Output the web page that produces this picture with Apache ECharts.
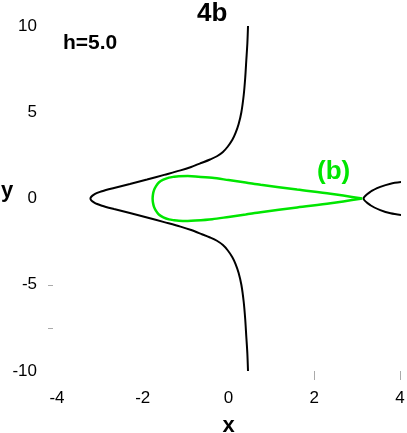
<!DOCTYPE html>
<html>
<head>
<meta charset="utf-8">
<script src="https://cdn.jsdelivr.net/npm/echarts@6/dist/echarts.min.js"></script>
<style>
html,body{margin:0;padding:0;background:#fff;}
#chart{width:407px;height:433px;}
</style>
</head>
<body>
<div id="chart"></div>
<script>
// Tick values
var xTicks = [-4, -2, 0, 2, 4];
var yTicks = [-10, -5, 0, 5, 10];
// Faint stray tick marks seen in the original
var xStrayTicks = [2, 4];
var yStrayTicks = [-5, -7.5];

// Left black separatrix branch (top to bottom)
var blackLeft = [
  [0.455, 10.0], [0.44, 9.0], [0.415, 8.0], [0.39, 7.0], [0.355, 6.0], [0.30, 5.0],
  [0.235, 4.3], [0.165, 3.8], [0.09, 3.4], [-0.02, 3.0], [-0.13, 2.7], [-0.27, 2.45],
  [-0.43, 2.26], [-0.62, 2.07], [-0.87, 1.83], [-1.12, 1.63], [-1.50, 1.37],
  [-1.90, 1.10], [-2.30, 0.84], [-2.67, 0.61], [-2.95, 0.42], [-3.13, 0.24], [-3.22, 0.0],
  [-3.13, -0.24], [-2.95, -0.42], [-2.67, -0.61], [-2.30, -0.84], [-1.90, -1.10],
  [-1.50, -1.37], [-1.12, -1.63], [-0.87, -1.83], [-0.62, -2.07], [-0.43, -2.26],
  [-0.27, -2.45], [-0.13, -2.7], [-0.02, -3.0], [0.09, -3.4], [0.165, -3.8],
  [0.235, -4.3], [0.30, -5.0], [0.355, -6.0], [0.39, -7.0], [0.415, -8.0],
  [0.44, -9.0], [0.455, -10.0]
];

// Right black branch
var blackRight = [
  [4.05, 0.96], [3.78, 0.86], [3.54, 0.67], [3.31, 0.39], [3.15, 0.0],
  [3.31, -0.39], [3.54, -0.67], [3.78, -0.86], [4.05, -0.96]
];

// Green closed orbit (b)
var greenLoop = [
  [3.12, 0.0], [2.38, 0.28], [1.60, 0.52], [0.75, 0.80], [0.40, 0.93], [0.0, 1.07],
  [-0.38, 1.20], [-0.77, 1.28], [-0.95, 1.30], [-1.16, 1.29], [-1.27, 1.26],
  [-1.39, 1.21], [-1.52, 1.09], [-1.625, 0.93], [-1.69, 0.72], [-1.735, 0.50],
  [-1.76, 0.26], [-1.77, 0.0],
  [-1.76, -0.26], [-1.735, -0.50], [-1.69, -0.72], [-1.625, -0.93], [-1.52, -1.09],
  [-1.39, -1.21], [-1.27, -1.26], [-1.16, -1.29], [-0.95, -1.30], [-0.77, -1.28],
  [-0.38, -1.20], [0.0, -1.07], [0.40, -0.93], [0.75, -0.80], [1.60, -0.52],
  [2.38, -0.28], [3.12, 0.0]
];

var titleText = '4b';
var hText = 'h=5.0';
var orbitLabel = '(b)';
var xName = 'x';
var yName = 'y';

var FONT = 'Liberation Sans, Arial, Helvetica, sans-serif';
var chart = echarts.init(document.getElementById('chart'), null, {renderer: 'canvas'});

chart.setOption({
  backgroundColor: '#fff',
  animation: false,
  grid: {left: 57, right: 7, top: 26, bottom: 62, containLabel: false, outerBoundsMode: 'none'},
  xAxis: {
    type: 'value', min: xTicks[0], max: xTicks[xTicks.length - 1], interval: 2,
    name: xName, nameLocation: 'middle', nameGap: 44,
    nameTextStyle: {fontFamily: FONT, fontSize: 22, fontWeight: 'bold', color: '#000'},
    axisLine: {show: false, onZero: false}, splitLine: {show: false},
    axisTick: {show: true, customValues: xStrayTicks, length: 9, lineStyle: {color: '#aaa', width: 1}},
    axisLabel: {margin: 19, fontFamily: FONT, fontSize: 17, color: '#000'}
  },
  yAxis: {
    type: 'value', min: yTicks[0], max: yTicks[yTicks.length - 1], interval: 5,
    offset: 4,
    axisLine: {show: false, onZero: false}, splitLine: {show: false},
    axisTick: {show: true, customValues: yStrayTicks, length: 5, lineStyle: {color: '#aaa', width: 1}},
    axisLabel: {margin: 16, fontFamily: FONT, fontSize: 17, color: '#000'}
  },
  series: [
    {type: 'line', data: blackLeft, symbol: 'none', smooth: 0.3, clip: false,
     lineStyle: {color: '#000', width: 2}},
    {type: 'line', data: blackRight, symbol: 'none', smooth: 0.3, clip: false,
     lineStyle: {color: '#000', width: 2}},
    {type: 'line', data: greenLoop, symbol: 'none', smooth: 0.3, clip: false,
     lineStyle: {color: '#00e600', width: 2.5}}
  ],
  graphic: [
    {type: 'text', left: 197, top: 1, style: {text: titleText, font: 'bold 26px ' + FONT, fill: '#000'}},
    {type: 'text', left: 63, top: 33, style: {text: hText, font: 'bold 21px ' + FONT, fill: '#000'}},
    {type: 'text', left: 317, top: 159, style: {text: orbitLabel, font: 'bold 26px ' + FONT, fill: '#00e600'}},
    {type: 'text', left: 1, top: 180, style: {text: yName, font: 'bold 22px ' + FONT, fill: '#000'}}
  ]
});
</script>
</body>
</html>
